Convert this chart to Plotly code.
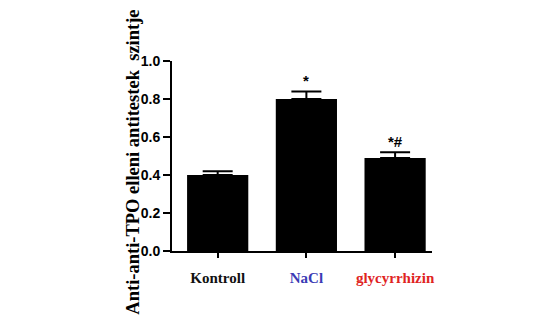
import plotly.graph_objects as go

# Group means and upper SEM of anti-TPO antibody levels
groups = ["Kontroll", "NaCl", "glycyrrhizin"]
means = [0.40, 0.80, 0.49]
sem = [0.02, 0.04, 0.03]
marks = ["", "*", "*#"]
label_colors = ["#111111", "#3b3bb5", "#e0241f"]
y_ticks = [0.0, 0.2, 0.4, 0.6, 0.8, 1.0]

serif = "Liberation Serif, Times New Roman, serif"
sans = "Liberation Sans, Arial, sans-serif"

fig = go.Figure()
fig.add_trace(go.Bar(
    x=groups,
    y=means,
    width=0.69,
    marker=dict(color="black", line=dict(width=0)),
    error_y=dict(
        type="data", symmetric=False, array=sem,
        arrayminus=[0] * len(sem),
        color="black", thickness=2, width=15,
    ),
    showlegend=False,
))

# significance markers above the error caps
for g, m, s, lab in zip(groups, means, sem, marks):
    if lab:
        fig.add_annotation(
            x=g, y=m + s, yref="y", text="<b>" + lab + "</b>",
            showarrow=False, yanchor="bottom", yshift=0,
            font=dict(family=sans, size=15, color="black"),
        )

ticktext = [
    '<b><span style="color:%s">%s</span></b>' % (c, g)
    for g, c in zip(groups, label_colors)
]

fig.update_layout(
    width=550, height=327,
    margin=dict(l=172, r=118, t=61, b=76),
    paper_bgcolor="white", plot_bgcolor="white",
    xaxis=dict(
        range=[-0.515, 2.416],
        tickmode="array", tickvals=groups, ticktext=ticktext,
        tickfont=dict(family=serif, size=15),
        showline=True, linecolor="black", linewidth=2,
        ticks="outside", ticklen=5, tickwidth=2, tickcolor="black",
        showgrid=False, zeroline=False, ticklabelstandoff=7,
    ),
    yaxis=dict(
        range=[0, 1.0],
        tickmode="array", tickvals=y_ticks,
        ticktext=["<b>%.1f</b>" % v for v in y_ticks],
        tickfont=dict(family=sans, size=14, color="black"),
        showline=True, linecolor="black", linewidth=2,
        ticks="outside", ticklen=7, tickwidth=2, tickcolor="black",
        showgrid=False, zeroline=False, ticklabelstandoff=0,
    ),
)

fig.add_annotation(
    text="<b>Anti-anti-TPO elleni antitestek  szintje</b>",
    xref="paper", yref="paper", x=-0.104, y=0.47,
    xanchor="right", yanchor="middle", textangle=-90,
    showarrow=False,
    font=dict(family=serif, size=18.5, color="black"),
)

fig.write_html("out.html")
